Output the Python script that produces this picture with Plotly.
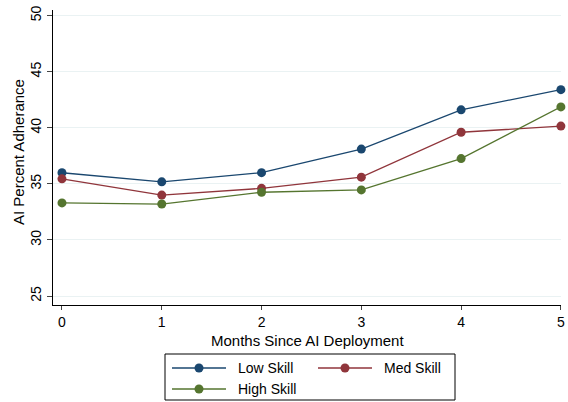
import plotly.graph_objects as go

months = [0, 1, 2, 3, 4, 5]
low_skill = [35.99, 35.18, 36.0, 38.1, 41.6, 43.4]
med_skill = [35.45, 34.0, 34.6, 35.6, 39.6, 40.15]
high_skill = [33.3, 33.2, 34.25, 34.46, 37.25, 41.86]
series = [("Low Skill", low_skill, "#1a476f"),
          ("Med Skill", med_skill, "#90353b"),
          ("High Skill", high_skill, "#55752f")]

L, R, T, B, W, H = 53, 7, 10, 97, 568, 402
pw, ph = W - L - R, H - T - B
px = lambda x: (x - L) / pw
py = lambda y: (H - B - y) / ph

fig = go.Figure()
for name, vals, col in series:
    fig.add_trace(go.Scatter(x=months, y=vals, name=name, mode="lines+markers",
                             line=dict(color=col, width=1.3), showlegend=False,
                             marker=dict(color=col, size=9), cliponaxis=False))

shapes = [dict(type="rect", xref="paper", yref="paper", x0=px(165), x1=px(455),
               y0=py(354), y1=py(400), line=dict(color="black", width=1))]
annotations = []
slots = [(172, 368), (318, 368), (172, 389)]
for (name, _, col), (sx, sy) in zip(series, slots):
    shapes.append(dict(type="line", xref="paper", yref="paper", x0=px(sx), x1=px(sx + 54),
                       y0=py(sy), y1=py(sy), line=dict(color=col, width=1.3)))
    shapes.append(dict(type="circle", xref="paper", yref="paper", x0=px(sx + 22.5), x1=px(sx + 31.5),
                       y0=py(sy - 4.5), y1=py(sy + 4.5), fillcolor=col, line=dict(color=col, width=0)))
    annotations.append(dict(xref="paper", yref="paper", x=px(sx + 64), y=py(sy), text=name,
                            showarrow=False, xanchor="left", yanchor="middle", font=dict(size=14)))
annotations.append(dict(xref="paper", yref="paper", x=0.5, y=py(340), text="Months Since AI Deployment",
                        showarrow=False, xanchor="center", yanchor="middle", font=dict(size=15)))
annotations.append(dict(xref="paper", yref="paper", x=px(18), y=py(152), text="AI Percent Adherance",
                        textangle=-90, showarrow=False, xanchor="center", yanchor="middle",
                        font=dict(size=15)))

fig.update_layout(
    width=W, height=H, paper_bgcolor="white", plot_bgcolor="white",
    margin=dict(l=L, r=R, t=T, b=B),
    font=dict(family="Liberation Sans, Arial", size=14, color="black"),
    xaxis=dict(range=[-0.09, 5.001], tickvals=months, showline=True, linecolor="black",
               ticks="outside", ticklen=4, showgrid=False, zeroline=False, automargin=False,
               tickfont=dict(size=14)),
    yaxis=dict(range=[24.2, 50.5], tickvals=[25, 30, 35, 40, 45, 50], showline=True,
               linecolor="black", ticks="outside", ticklen=5, tickangle=-90, automargin=False,
               gridcolor="#eaf2f3", gridwidth=1, zeroline=False, tickfont=dict(size=14)),
    shapes=shapes, annotations=annotations,
)
fig.write_html("out.html", config={"displayModeBar": False},
               post_script="document.body.style.margin='0';document.body.style.overflow='hidden';")
